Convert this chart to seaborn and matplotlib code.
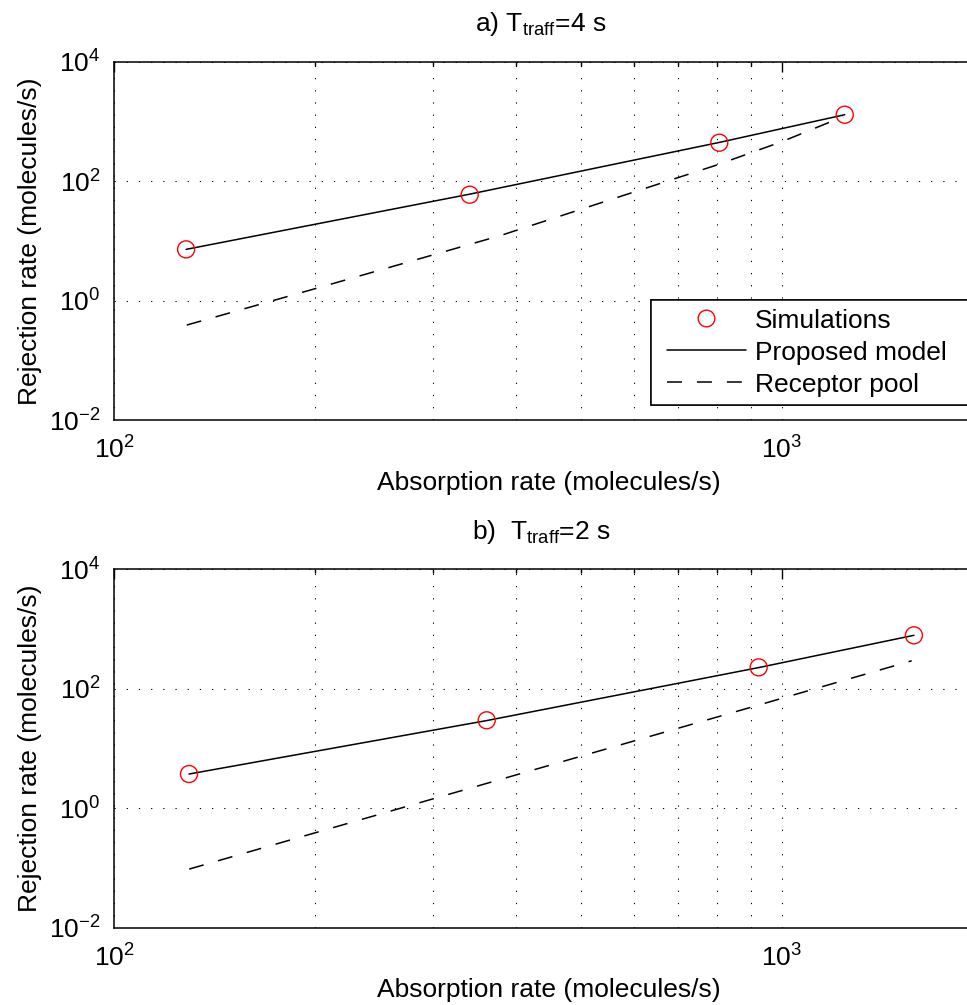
import numpy as np
import pandas as pd
import matplotlib
matplotlib.use("Agg")
import matplotlib.pyplot as plt
import seaborn as sns
from matplotlib.lines import Line2D
from matplotlib.legend_handler import HandlerLine2D
from matplotlib.ticker import LogLocator, NullLocator, LogFormatterSciNotation, NullFormatter

# ---------------- data ----------------
titles = ["a) T$_{\\mathregular{traff}}$=4 s", "b)  T$_{\\mathregular{traff}}$=2 s"]
xlabel = "Absorption rate (molecules/s)"
ylabel = "Rejection rate (molecules/s)"
legend_labels = ["Simulations", "Proposed model", "Receptor pool"]

# panel a) T_traff = 4 s
a_sim_x = [128.1, 340.8, 806.3, 1243.0]
a_sim_y = [7.2, 59.2, 440.0, 1295.0]
a_model_x = [128.1, 340.8, 806.3, 1243.0]
a_model_y = [7.2, 60.5, 445.0, 1295.0]
a_pool_x = [128.4, 199.1, 378.4, 799.0, 1000.0, 1236.0]
a_pool_y = [0.389, 1.56, 12.2, 186.0, 457.0, 1199.0]

# panel b) T_traff = 2 s
b_sim_x = [129.4, 361.4, 923.6, 1578.0]
b_sim_y = [3.73, 29.6, 228.0, 784.0]
b_model_x = [129.4, 361.4, 923.6, 1578.0]
b_model_y = [3.73, 29.3, 226.0, 784.0]
b_pool_x = [129.5, 361.4, 923.6, 1566.0]
b_pool_y = [0.0955, 2.6, 53.3, 294.0]

x_limits = (100, 2000)
y_limits = (1e-2, 1e4)
y_major = [1e-2, 1e0, 1e2, 1e4]

# ---------------- style ----------------
sns.set_style("white")
plt.rcParams["font.family"] = ["Liberation Sans", "DejaVu Sans"]
plt.rcParams["mathtext.fontset"] = "custom"
plt.rcParams["mathtext.rm"] = "Liberation Sans"
plt.rcParams["mathtext.it"] = "Liberation Sans:italic"
plt.rcParams["mathtext.bf"] = "Liberation Sans:bold"
for k in ["text.color", "axes.labelcolor", "xtick.color", "ytick.color", "axes.edgecolor"]:
    plt.rcParams[k] = "black"
FS = 19

fig = plt.figure(figsize=(9.67, 10.05), dpi=100)
W, H = 967.0, 1005.0
x0px = 114.3
dec_px = 667.4
right_px = x0px + dec_px * np.log10(x_limits[1] / x_limits[0])
ax_h = 358.3
tops = [61.7, 569.3]

panels = [
    (a_sim_x, a_sim_y, a_model_x, a_model_y, a_pool_x, a_pool_y),
    (b_sim_x, b_sim_y, b_model_x, b_model_y, b_pool_x, b_pool_y),
]

dash = (0, (9.8, 9.8))
grid_ls = (0, (1.2, 10.5))

for i, (sx, sy, mx, my, px, py) in enumerate(panels):
    top = tops[i]
    ax = fig.add_axes([x0px / W, 1 - (top + ax_h) / H, (right_px - x0px) / W, ax_h / H])
    ax.set_xscale("log")
    ax.set_yscale("log")

    sns.lineplot(x=mx, y=my, ax=ax, color="black", linewidth=1.1,
                 estimator=None, sort=False)
    sns.lineplot(x=px, y=py, ax=ax, color="black", linewidth=1.1,
                 linestyle=dash, estimator=None, sort=False)
    sns.scatterplot(x=sx, y=sy, ax=ax, marker="o", s=150,
                    facecolor="none", edgecolor="red", linewidth=1.0, zorder=5)

    ax.set_xlim(*x_limits)
    ax.set_ylim(*y_limits)
    ax.set_yticks(y_major)
    ax.yaxis.set_minor_locator(NullLocator())
    ax.yaxis.set_major_formatter(LogFormatterSciNotation())
    ax.xaxis.set_major_locator(LogLocator(base=10))
    ax.xaxis.set_minor_locator(LogLocator(base=10, subs=np.arange(2, 10)))
    ax.xaxis.set_minor_formatter(NullFormatter())
    ax.xaxis.set_major_formatter(LogFormatterSciNotation())

    ax.grid(which="major", axis="both", color="black", linestyle=grid_ls, linewidth=0.75)
    ax.grid(which="minor", axis="x", color="black", linestyle=grid_ls, linewidth=0.75)
    ax.set_axisbelow(True)

    ax.tick_params(which="both", direction="in", top=True, right=True,
                   labelsize=FS, width=1.0, color="black", labelcolor="black")
    ax.tick_params(which="major", length=7)
    ax.tick_params(which="minor", length=3)
    ax.tick_params(axis="y", pad=10)
    ax.tick_params(axis="x", pad=12)
    for sp in ax.spines.values():
        sp.set_color("black")
        sp.set_linewidth(1.1)

    ax.set_xlabel(xlabel, fontsize=FS, labelpad=5, color="black")
    ax.set_ylabel(ylabel, fontsize=FS, labelpad=5, color="black")
    ax.set_title(titles[i], fontsize=FS, pad=22, x=0.4915, color="black")

    handles = [
        Line2D([], [], linestyle="none", marker="o", markersize=12,
               markerfacecolor="none", markeredgecolor="red", markeredgewidth=1.0),
        Line2D([], [], color="black", linewidth=1.1),
        Line2D([], [], color="black", linewidth=1.1, linestyle=dash),
    ]
    lx = (650.7 - x0px) / (right_px - x0px)
    ly = 1 - (300.0 - top) / ax_h
    leg = ax.legend(handles, legend_labels, loc="upper left",
                    bbox_to_anchor=(lx, ly - 0.1, 0.6, 0.1), mode="expand",
                    borderaxespad=0, fontsize=FS, frameon=True, fancybox=False,
                    framealpha=1, edgecolor="black", borderpad=0.33,
                    labelspacing=0.3, handlelength=3.28, handletextpad=0.35,
                    handler_map={Line2D: HandlerLine2D(xpad=0.28)})
    leg.get_frame().set_linewidth(1.1)
    leg.get_frame().set_facecolor("white")
    for t in leg.get_texts():
        t.set_color("black")

fig.savefig("out.png", dpi=100)
